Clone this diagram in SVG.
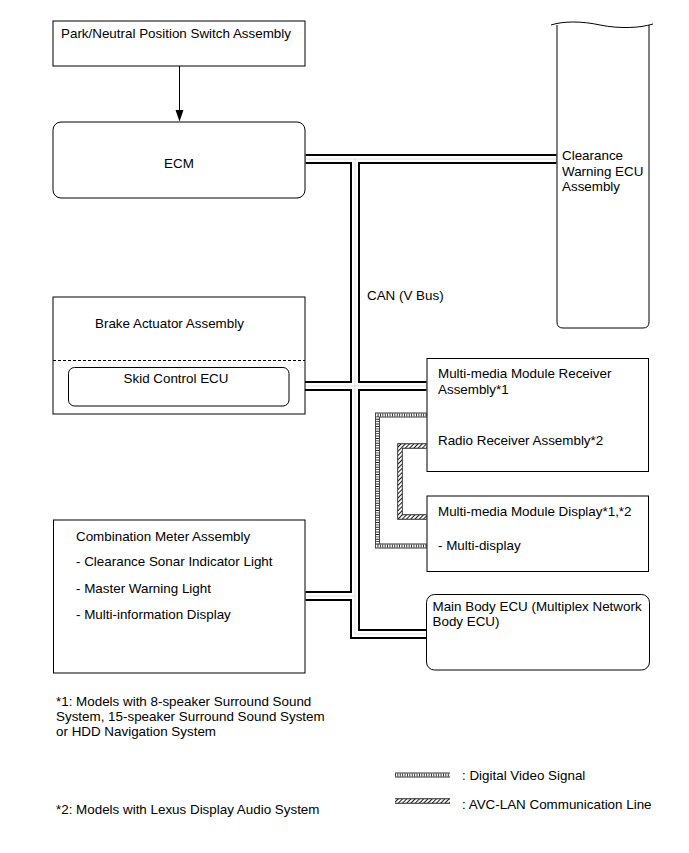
<svg xmlns="http://www.w3.org/2000/svg" width="689" height="853" viewBox="0 0 689 853">
<style>
text{font-family:"Liberation Sans",Arial,sans-serif;font-size:13.4px;fill:#000}
.box{fill:#fff;stroke:#000;stroke-width:1}
.co{fill:none;stroke:#000;stroke-width:10;stroke-linejoin:miter}
.ci{fill:none;stroke:#fff;stroke-width:6;stroke-linejoin:miter}
.cc{fill:none;stroke:#d0d0d0;stroke-width:0.7}
.dvo{fill:none;stroke:#333;stroke-width:5;stroke-linejoin:miter}
.dvi{fill:none;stroke:#fff;stroke-width:3.2;stroke-linejoin:miter}
.dvd{fill:none;stroke:#222;stroke-width:3.2;stroke-dasharray:0.9 1.5}
.avo{fill:none;stroke:#222;stroke-width:5.5;stroke-linejoin:miter}
.avi{fill:none;stroke:url(#hatch);stroke-width:3.7;stroke-linejoin:miter}
</style>
<defs>
<pattern id="hatch" width="3" height="3" patternUnits="userSpaceOnUse" patternTransform="rotate(45)">
<rect width="3" height="3" fill="#fff"/>
<line x1="0.5" y1="0" x2="0.5" y2="3" stroke="#000" stroke-width="0.9"/>
</pattern>
</defs>
<rect width="689" height="853" fill="#fff"/>

<g id="connectors">
<line x1="179.5" y1="66" x2="179.5" y2="110" stroke="#000" stroke-width="1"/>
<path d="M175.5,110 L183.5,110 L179.5,121.5 Z" fill="#000"/>
<path class="co" d="M305.5,159 H556.5 M355,159 V634 H426.5 M289.5,386 H426.5 M305.5,596 H355"/>
<path class="ci" d="M305.5,159 H556.5 M355,159 V634 H426.5 M289.5,386 H426.5 M305.5,596 H355"/>
<path class="cc" d="M305.5,159 H556.5 M355,159 V634 H426.5 M289.5,386 H426.5 M305.5,596 H355"/>
<path class="dvo" d="M426.5,415 H377.5 V546 H426.5"/>
<path class="dvi" d="M426.5,415 H377.5 V546 H426.5"/>
<path class="dvd" d="M426.5,415 H377.5 V546 H426.5"/>
<path class="avo" d="M426.5,446 H400 V517 H426.5"/>
<path class="avi" d="M426.5,446 H400 V517 H426.5"/>
<text x="367" y="300">CAN (V Bus)</text>
</g>

<g id="park-neutral">
<rect class="box" x="53" y="21" width="252" height="45"/>
<text x="61" y="38">Park/Neutral Position Switch Assembly</text>
</g>

<g id="ecm">
<rect class="box" x="53" y="122" width="252" height="76" rx="8"/>
<text x="179" y="168" text-anchor="middle">ECM</text>
</g>

<g id="clearance-warning-ecu">
<path class="box" d="M557,25 V322 Q557,328 563,328 H643 Q649,328 649,322 V25"/>
<path fill="none" stroke="#000" stroke-width="1" d="M551,25 C563,21 582,21 600,25 C620,29 640,28 653,24"/>
<text x="562" y="159.5">Clearance</text>
<text x="562" y="175.5">Warning ECU</text>
<text x="562" y="191">Assembly</text>
</g>

<g id="brake-actuator">
<rect class="box" x="53" y="297" width="252" height="117"/>
<line x1="53" y1="360.5" x2="305" y2="360.5" stroke="#000" stroke-width="1" stroke-dasharray="3 2"/>
<text x="95" y="328">Brake Actuator Assembly</text>
</g>

<g id="skid-control-ecu">
<rect class="box" x="68.5" y="367.5" width="220.5" height="38.5" rx="6"/>
<text x="176" y="383" text-anchor="middle">Skid Control ECU</text>
</g>

<g id="multimedia-receiver">
<rect class="box" x="427" y="358.5" width="221.5" height="113"/>
<text x="438" y="378">Multi-media Module Receiver</text>
<text x="438" y="394">Assembly*1</text>
<text x="438" y="444.5">Radio Receiver Assembly*2</text>
</g>

<g id="multimedia-display">
<rect class="box" x="427" y="496" width="221.5" height="75.5"/>
<text x="438" y="515.5">Multi-media Module Display*1,*2</text>
<text x="438" y="549.5">- Multi-display</text>
</g>

<g id="combination-meter">
<rect class="box" x="53.5" y="520" width="251.5" height="153"/>
<text x="76" y="540.5">Combination Meter Assembly</text>
<text x="76" y="566">- Clearance Sonar Indicator Light</text>
<text x="76" y="592.5">- Master Warning Light</text>
<text x="76" y="618.5">- Multi-information Display</text>
</g>

<g id="main-body-ecu">
<rect class="box" x="426.5" y="594.5" width="223" height="75.5" rx="8"/>
<text x="432.5" y="611">Main Body ECU (Multiplex Network</text>
<text x="432.5" y="626">Body ECU)</text>
</g>

<g id="notes">
<text x="56" y="706">*1: Models with 8-speaker Surround Sound</text>
<text x="56" y="721">System, 15-speaker Surround Sound System</text>
<text x="56" y="735.5">or HDD Navigation System</text>
<text x="56" y="813.5">*2: Models with Lexus Display Audio System</text>
</g>

<g id="legend">
<path class="dvo" d="M395,775 H450"/>
<path class="dvi" d="M395,775 H450"/>
<path class="dvd" d="M395,775 H450"/>
<path class="avo" d="M395,801 H450"/>
<path class="avi" d="M395,801 H450"/>
<text x="462" y="780">: Digital Video Signal</text>
<text x="462" y="808.5">: AVC-LAN Communication Line</text>
</g>
</svg>
